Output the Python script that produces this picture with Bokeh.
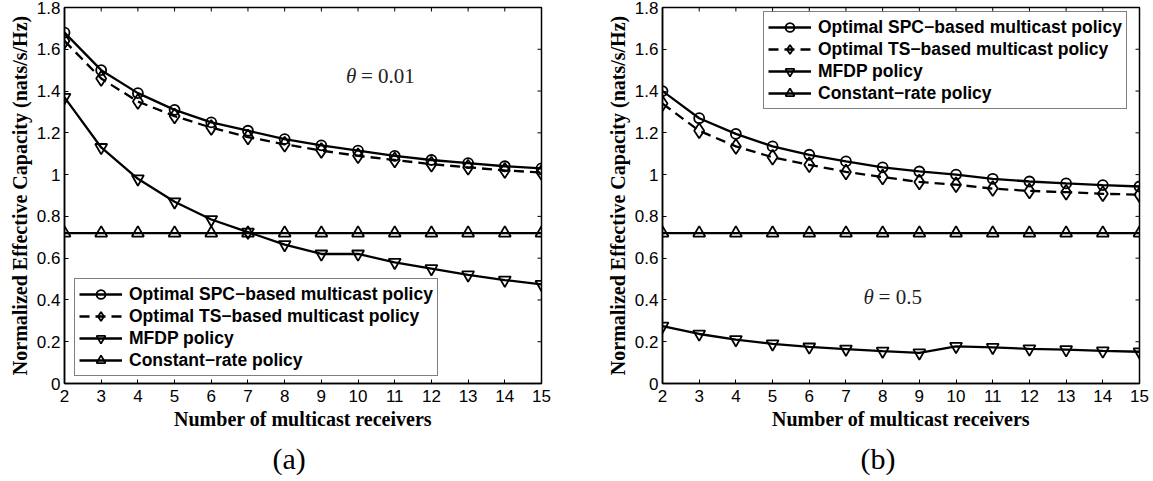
import math
from bokeh.plotting import figure
from bokeh.models import (Range1d, FixedTicker, Legend, LegendItem, Label, Title)
from bokeh.layouts import row
from bokeh.embed import file_html
from bokeh.resources import INLINE

# ---------------- data ----------------
receivers = [2, 3, 4, 5, 6, 7, 8, 9, 10, 11, 12, 13, 14, 15]

# panel (a): theta = 0.01
spc_a = [1.68, 1.50, 1.39, 1.31, 1.25, 1.21, 1.17, 1.14, 1.115, 1.09, 1.07, 1.055, 1.04, 1.03]
ts_a = [1.64, 1.46, 1.35, 1.28, 1.225, 1.18, 1.145, 1.115, 1.09, 1.07, 1.05, 1.035, 1.02, 1.01]
mfdp_a = [1.37, 1.13, 0.98, 0.87, 0.785, 0.725, 0.665, 0.62, 0.62, 0.58, 0.55, 0.52, 0.495, 0.475]
const_a = [0.72] * 14

# panel (b): theta = 0.5
spc_b = [1.40, 1.27, 1.195, 1.135, 1.095, 1.063, 1.035, 1.015, 1.0, 0.98, 0.967, 0.958, 0.95, 0.943]
ts_b = [1.34, 1.21, 1.135, 1.083, 1.047, 1.013, 0.988, 0.965, 0.952, 0.933, 0.922, 0.916, 0.908, 0.904]
mfdp_b = [0.275, 0.237, 0.21, 0.19, 0.175, 0.165, 0.155, 0.147, 0.178, 0.173, 0.166, 0.162, 0.156, 0.152]
const_b = [0.72] * 14

series_names = ["Optimal SPC\u2212based multicast policy",
                "Optimal TS\u2212based multicast policy",
                "MFDP policy",
                "Constant\u2212rate policy"]

x_ticks = list(range(2, 16))
y_ticks = [0, 0.2, 0.4, 0.6, 0.8, 1, 1.2, 1.4, 1.6, 1.8]
y_tick_labels = ["0", "0.2", "0.4", "0.6", "0.8", "1", "1.2", "1.4", "1.6", "1.8"]

x_label = "Number of multicast receivers"
y_label = "Normalized Effective Capacity (nats/s/Hz)"

SANS = "Liberation Sans"
SERIF = "Liberation Serif"
X_MIN, X_MAX, Y_MIN, Y_MAX = 2, 15, 0, 1.8


def make_panel(spc, ts, mfdp, const, left_border, right_border, legend_loc,
               theta_text, theta_pos, eq_x, caption, caption_offset):
    p = figure(width=left_border + 477 + right_border, height=481,
               x_range=Range1d(X_MIN, X_MAX), y_range=Range1d(Y_MIN, Y_MAX),
               output_backend="svg", toolbar_location=None,
               min_border_left=left_border, min_border_right=right_border,
               min_border_top=7, min_border_bottom=10)
    p.grid.visible = False
    p.outline_line_color = "black"
    p.outline_line_width = 1.5
    p.background_fill_color = "white"
    p.border_fill_color = "white"

    overrides = {v: s for v, s in zip(y_ticks, y_tick_labels)}
    p.xaxis.ticker = FixedTicker(ticks=x_ticks)
    p.yaxis.ticker = FixedTicker(ticks=y_ticks)
    p.yaxis.major_label_overrides = overrides

    for ax in list(p.xaxis) + list(p.yaxis):
        ax.major_tick_in = 4
        ax.major_tick_out = 0
        ax.minor_tick_line_color = None
        ax.axis_line_width = 1.5
        ax.axis_line_color = "black"
        ax.major_tick_line_color = "black"
        ax.major_label_text_font = SANS
        ax.major_label_text_font_size = "17px"
        ax.major_label_text_color = "black"
        ax.axis_label_text_font = SERIF
        ax.axis_label_text_font_style = "bold"
        ax.axis_label_text_font_size = "20px"
        ax.axis_label_text_color = "black"

    p.xaxis.axis_label = x_label
    p.yaxis.axis_label = y_label
    p.xaxis.major_label_standoff = 6
    p.xaxis.axis_label_standoff = 3
    p.yaxis.major_label_standoff = 4
    p.yaxis.axis_label_standoff = 3

    # mirrored inward ticks on top and right edges (box on)
    p.ray(x=x_ticks, y=[Y_MAX] * len(x_ticks), length=4, length_units="screen",
          angle=-math.pi / 2, line_color="black", line_width=1)
    p.ray(x=[X_MAX] * len(y_ticks), y=y_ticks, length=4, length_units="screen",
          angle=math.pi, line_color="black", line_width=1)

    lw = 2.3
    mw = 1.8
    r1l = p.line(receivers, spc, line_color="black", line_width=lw)
    r1m = p.scatter(receivers, spc, marker="circle", size=10, line_color="black",
                    line_width=mw, fill_alpha=0)
    r2l = p.line(receivers, ts, line_color="black", line_width=lw, line_dash="10 6")
    r2m = p.scatter(receivers, ts, marker="diamond", size=15, line_color="black",
                    line_width=mw, fill_alpha=0)
    r3l = p.line(receivers, mfdp, line_color="black", line_width=lw)
    r3m = p.scatter(receivers, mfdp, marker="inverted_triangle", size=12, line_color="black",
                    line_width=mw, fill_alpha=0)
    r4l = p.line(receivers, const, line_color="black", line_width=lw)
    r4m = p.scatter(receivers, const, marker="triangle", size=12, line_color="black",
                    line_width=mw, fill_alpha=0)

    items = [LegendItem(label=series_names[0], renderers=[r1l, r1m]),
             LegendItem(label=series_names[1], renderers=[r2l, r2m]),
             LegendItem(label=series_names[2], renderers=[r3l, r3m]),
             LegendItem(label=series_names[3], renderers=[r4l, r4m])]
    legend = Legend(items=items, location=legend_loc)
    legend.label_text_font = SANS
    legend.label_text_font_style = "bold"
    legend.label_text_font_size = "17.5px"
    legend.label_text_color = "black"
    legend.label_height = 18
    legend.glyph_width = 43
    legend.glyph_height = 22
    legend.spacing = 0
    legend.padding = 4
    legend.margin = 0
    legend.label_standoff = 7
    legend.border_line_color = "black"
    legend.border_line_width = 1.5
    legend.background_fill_color = "white"
    legend.background_fill_alpha = 1
    p.add_layout(legend, "center")

    p.add_layout(Label(x=theta_pos[0], y=theta_pos[1], text="\u03b8", text_font=SERIF,
                       text_font_style="italic", text_font_size="21px",
                       text_baseline="middle", text_color="#222222"))
    p.add_layout(Label(x=eq_x, y=theta_pos[1], text=theta_text, text_font=SERIF,
                       text_font_size="21px", text_baseline="middle", text_color="#222222"))

    cap = Title(text=caption, align="left", offset=caption_offset, standoff=14,
                text_font=SERIF, text_font_style="normal", text_font_size="30px",
                text_color="black")
    p.add_layout(cap, "below")
    return p


pa = make_panel(spc_a, ts_a, mfdp_a, const_a, 64, 35, (10, 7),
                "= 0.01", (9.67, 1.474), 10.08, "(a)", 208)
pb = make_panel(spc_b, ts_b, mfdp_b, const_b, 86, 14, (101, 274),
                "= 0.5", (7.48, 0.413), 7.89, "(b)", 198)

layout = row(pa, pb)
open("out.html", "w").write(file_html(layout, INLINE))
